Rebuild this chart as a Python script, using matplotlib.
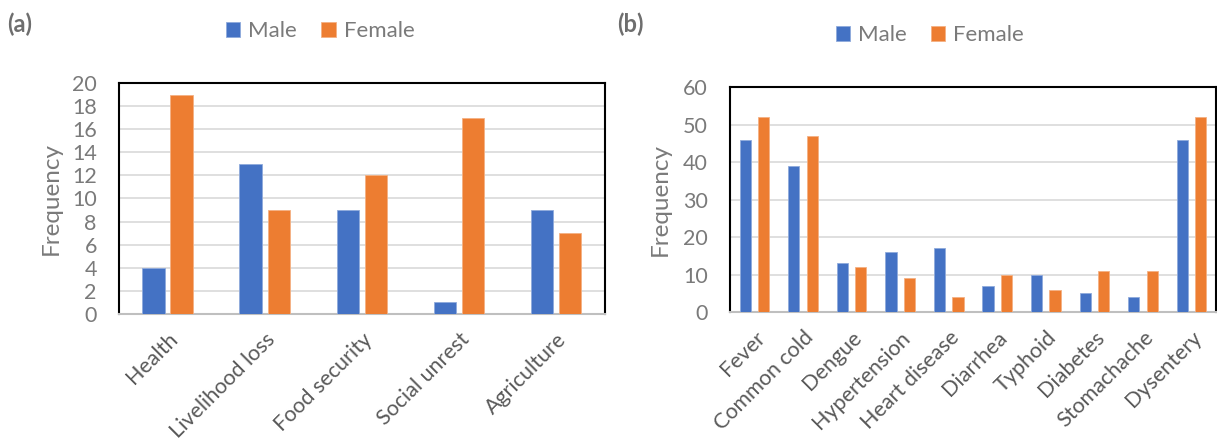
"""Two-panel frequency bar charts by gender (Excel-like styling)."""

import matplotlib

matplotlib.use("Agg")

import matplotlib.pyplot as plt
import numpy as np

BLUE = "#4472C4"
ORANGE = "#ED7D31"
DARK_TEXT = "#595959"
LIGHT_TEXT = "#7A7A7A"
GRID = "#D9D9D9"

plt.rcParams["font.family"] = ["Lato", "DejaVu Sans"]

impact_labels = ["Health", "Livelihood loss", "Food security", "Social unrest", "Agriculture"]
impact_male = [4, 13, 9, 1, 9]
impact_female = [19, 9, 12, 17, 7]

disease_labels = [
    "Fever", "Common cold", "Dengue", "Hypertension", "Heart disease",
    "Diarrhea", "Typhoid", "Diabetes", "Stomachache", "Dysentery",
]
disease_male = [46, 39, 13, 16, 17, 7, 10, 5, 4, 46]
disease_female = [52, 47, 12, 9, 4, 10, 6, 11, 11, 52]


def draw_panel(axis, labels, male, female, ymax, ystep, offset, width, label_x):
    x = np.arange(len(labels))
    axis.bar(x - offset, male, width=width, color=BLUE, edgecolor="#8FAADC",
             linewidth=0.6, label="Male", zorder=3)
    axis.bar(x + offset, female, width=width, color=ORANGE, edgecolor="#F4B183",
             linewidth=0.6, label="Female", zorder=3)
    axis.set_xlim(-0.5, len(labels) - 0.5)
    axis.set_ylim(0, ymax)
    axis.set_yticks(np.arange(0, ymax + 1, ystep))
    axis.set_xticks(x, labels, rotation=45, ha="right", rotation_mode="anchor")
    axis.grid(axis="y", color=GRID, linewidth=1.2, zorder=0)
    axis.set_axisbelow(True)
    axis.tick_params(axis="y", colors=LIGHT_TEXT, labelsize=15.5, length=0, pad=16)
    axis.tick_params(axis="x", colors=DARK_TEXT, labelsize=15.5, length=0, pad=11)
    axis.set_ylabel("Frequency", color=LIGHT_TEXT, fontsize=17.5)
    axis.yaxis.set_label_coords(label_x, 0.5)
    for name in ("left", "top", "right"):
        axis.spines[name].set_color("black")
        axis.spines[name].set_linewidth(1.5)
    axis.spines["bottom"].set_color("#BFBFBF")
    axis.spines["bottom"].set_linewidth(1.5)


figure = plt.figure(figsize=(12.17, 4.46), dpi=100)
ax_a = figure.add_axes([0.0978, 0.296, 0.399, 0.518])
ax_b = figure.add_axes([0.600, 0.300, 0.399, 0.505])

draw_panel(ax_a, impact_labels, impact_male, impact_female, 20, 2, 0.145, 0.23, -0.118)
draw_panel(ax_b, disease_labels, disease_male, disease_female, 60, 10, 0.19, 0.23, -0.123)

for axis, x_leg, y_leg, tag, x_tag in (
    (ax_a, 0.263, 0.930, "(a)", 0.006),
    (ax_b, 0.764, 0.921, "(b)", 0.507),
):
    handles, names = axis.get_legend_handles_labels()
    figure.legend(handles, names, loc="center", bbox_to_anchor=(x_leg, y_leg),
                  ncol=2, frameon=False, fontsize=16, labelcolor=LIGHT_TEXT,
                  handlelength=0.65, handleheight=0.65, handletextpad=0.35,
                  columnspacing=1.1)
    figure.text(x_tag, 0.945, tag, color="#6E6E6E", fontsize=17,
                fontweight="bold", ha="left", va="center")

figure.savefig("out.png", dpi=100)
